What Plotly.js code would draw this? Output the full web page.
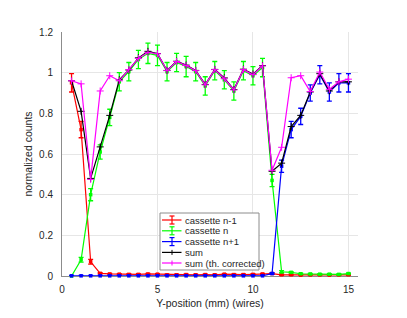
<!DOCTYPE html>
<html>
<head>
<meta charset="utf-8">
<script src="https://cdn.plot.ly/plotly-3.0.1.min.js"></script>
<style>html,body{margin:0;padding:0;background:#fff;}#chart{width:407px;height:318px;}</style>
</head>
<body>
<div id="chart"></div>
<script>
// ---- data ----
var positions = [0.5,1,1.5,2,2.5,3,3.5,4,4.5,5,5.5,6,6.5,7,7.5,8,8.5,9,9.5,10,10.5,11,11.5,12,12.5,13,13.5,14,14.5,15];

var cassettePrev = [0.95,0.72,0.07,0.013,0.010,0.009,0.008,0.008,0.010,0.009,0.006,0.006,0.007,0.006,0.007,0.006,0.009,0.007,0.007,0.008,0.010,0.012,0.006,0.006,0.004,0.005,0.005,0.004,0.005,0.006];
var cassettePrevErr = [0.045,0.04,0.012,0.003,0.003,0.003,0.003,0.003,0.003,0.003,0.003,0.003,0.003,0.003,0.003,0.003,0.003,0.003,0.003,0.003,0.003,0.003,0.003,0.003,0.003,0.003,0.003,0.003,0.003,0.003];

var cassetteN = [0.0,0.08,0.40,0.61,0.78,0.955,1.005,1.065,1.095,1.085,1.005,1.05,1.03,1.005,0.935,1.01,0.965,0.91,1.01,0.985,1.025,0.47,0.021,0.018,0.011,0.010,0.009,0.009,0.008,0.012];
var cassetteNErr = [0.002,0.012,0.03,0.035,0.04,0.045,0.045,0.045,0.05,0.05,0.045,0.045,0.05,0.045,0.045,0.045,0.045,0.045,0.045,0.045,0.045,0.03,0.005,0.003,0.003,0.003,0.003,0.003,0.003,0.003];

var cassetteNext = [0.001,0.001,0.001,0.001,0.001,0.001,0.001,0.001,0.001,0.001,0.001,0.001,0.001,0.001,0.001,0.001,0.001,0.001,0.001,0.001,0.001,0.012,0.54,0.72,0.785,0.90,0.99,0.905,0.95,0.95];
var cassetteNextErr = [0.002,0.002,0.002,0.002,0.002,0.002,0.002,0.002,0.002,0.002,0.002,0.002,0.002,0.002,0.002,0.002,0.002,0.002,0.002,0.002,0.002,0.004,0.03,0.04,0.04,0.04,0.045,0.045,0.045,0.045];

var sumCounts = [0.96,0.81,0.48,0.635,0.79,0.965,1.013,1.073,1.105,1.094,1.011,1.056,1.037,1.011,0.942,1.016,0.974,0.917,1.017,0.993,1.035,0.515,0.555,0.735,0.79,0.905,0.995,0.91,0.955,0.955];
var sumCorrected = [0.96,0.945,0.475,0.91,0.985,0.96,1.015,1.07,1.10,1.093,1.01,1.055,1.035,1.01,0.94,1.015,0.97,0.915,1.015,0.99,1.033,0.52,0.633,0.975,0.985,0.907,1.003,0.918,0.955,0.968];

var seriesNames = ['cassette n-1','cassette n','cassette n+1','sum','sum (th. corrected)'];
var seriesColors = ['#ff0000','#00ff00','#0000ff','#000000','#ff00ff'];
var xTicks = [0,5,10,15];

// ---- plot ----
var FONT = 'Liberation Sans, Arial, Helvetica, sans-serif';
var M = {l:62, r:49, t:32, b:42};
var W = 407, H = 318;
var PW = W - M.l - M.r, PH = H - M.t - M.b;
function px2x(p){ return (p - M.l) / PW; }
function py2y(p){ return (H - M.b - p) / PH; }

function errTrace(y, err, i){
  return {
    x: positions, y: y, name: seriesNames[i], type:'scatter', mode:'lines+markers',
    line:{color:seriesColors[i], width:1.2},
    marker:{color:seriesColors[i], size:3.5, symbol:'square'},
    error_y:{type:'data', array:err, visible:true, color:seriesColors[i], thickness:1.3, width:2.5},
    cliponaxis:false, showlegend:false
  };
}
function sumTrace(y, i){
  return {
    x: positions, y: y, name: seriesNames[i], type:'scatter', mode:'lines+markers',
    line:{color:seriesColors[i], width:1.2},
    marker:{color:seriesColors[i], size:5, symbol:'cross-thin', line:{color:seriesColors[i], width:1}},
    cliponaxis:false, showlegend:false
  };
}

var data = [
  errTrace(cassettePrev, cassettePrevErr, 0),
  errTrace(cassetteN, cassetteNErr, 1),
  errTrace(cassetteNext, cassetteNextErr, 2),
  sumTrace(sumCounts, 3),
  sumTrace(sumCorrected, 4)
];

// custom MATLAB-like legend
var shapes = [];
var annotations = [];
var box = {x0:160, x1:259, y0:213, y1:270};
shapes.push({type:'rect', xref:'paper', yref:'paper', x0:px2x(box.x0), x1:px2x(box.x1), y0:py2y(box.y1), y1:py2y(box.y0),
  line:{color:'#8c8c8c', width:1}, fillcolor:'#ffffff', layer:'above'});
var rowY = [220, 230.8, 241.6, 252.4, 263];
for (var i = 0; i < seriesNames.length; i++){
  var yy = rowY[i];
  var c = seriesColors[i];
  shapes.push({type:'line', xref:'paper', yref:'paper', x0:px2x(162), x1:px2x(181.5), y0:py2y(yy), y1:py2y(yy), line:{color:c, width:1.2}, layer:'above'});
  if (i < 3){
    shapes.push({type:'line', xref:'paper', yref:'paper', x0:px2x(172), x1:px2x(172), y0:py2y(yy-4), y1:py2y(yy+4), line:{color:c, width:1.2}, layer:'above'});
    shapes.push({type:'line', xref:'paper', yref:'paper', x0:px2x(169.5), x1:px2x(174.5), y0:py2y(yy-4), y1:py2y(yy-4), line:{color:c, width:1.2}, layer:'above'});
    shapes.push({type:'line', xref:'paper', yref:'paper', x0:px2x(169.5), x1:px2x(174.5), y0:py2y(yy+4), y1:py2y(yy+4), line:{color:c, width:1.2}, layer:'above'});
  } else {
    shapes.push({type:'line', xref:'paper', yref:'paper', x0:px2x(172), x1:px2x(172), y0:py2y(yy-2.5), y1:py2y(yy+2.5), line:{color:c, width:1}, layer:'above'});
  }
  annotations.push({xref:'paper', yref:'paper', x:px2x(183), y:py2y(yy), xanchor:'left', yanchor:'middle',
    text:seriesNames[i], showarrow:false, font:{family:FONT, size:9.5, color:'#262626'}});
}

var layout = {
  width:W, height:H, margin:M,
  paper_bgcolor:'#ffffff', plot_bgcolor:'#ffffff',
  font:{family:FONT, size:10, color:'#262626'},
  showlegend:false,
  xaxis:{
    range:[0,15.5], tickvals:xTicks, showgrid:true, gridcolor:'#e6e6e6', gridwidth:1,
    zeroline:false, showline:true, linecolor:'#8c8c8c', linewidth:1, ticks:'', layer:'below traces',
    tickfont:{family:FONT, size:10, color:'#262626'}, ticklabelstandoff:4,
    title:{text:'Y-position (mm) (wires)', font:{family:FONT, size:10.5, color:'#262626'}, standoff:5},
    automargin:false
  },
  yaxis:{
    range:[0,1.2], dtick:0.2, tick0:0, showgrid:true, gridcolor:'#e6e6e6', gridwidth:1,
    zeroline:false, showline:true, linecolor:'#8c8c8c', linewidth:1, ticks:'', layer:'below traces',
    tickfont:{family:FONT, size:10, color:'#262626'}, ticklabelstandoff:6,
    title:{text:'normalized counts', font:{family:FONT, size:10.5, color:'#262626'}, standoff:4},
    automargin:false
  },
  shapes:shapes,
  annotations:annotations
};

Plotly.newPlot('chart', data, layout, {staticPlot:true, displayModeBar:false});
</script>
</body>
</html>
